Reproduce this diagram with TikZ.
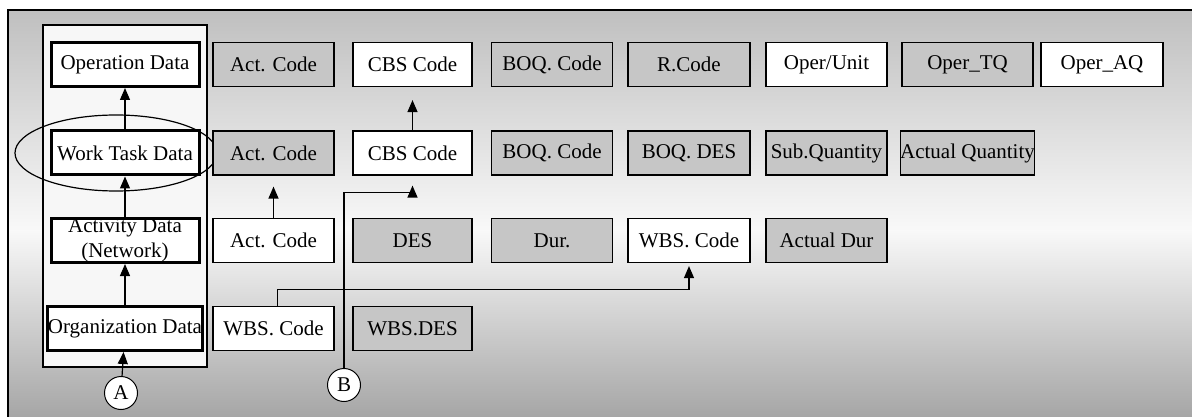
\documentclass[tikz,border=0pt]{standalone}
\usepackage{fontspec}
\setmainfont{Liberation Serif}
\usetikzlibrary{arrows.meta}
\tikzset{
  databox/.style={draw, line width=1.2pt, minimum width=121pt, minimum height=44pt,
    inner sep=0pt, font=\fontsize{21}{22}\selectfont},
  greybox/.style={databox, fill=gray!45},
  whitebox/.style={databox, fill=white},
  levelbox/.style={databox, fill=white, line width=3pt, minimum width=148pt, align=center},
  marker/.style={circle, draw, fill=white, line width=1pt, minimum size=33pt, inner sep=0pt,
    font=\fontsize{21}{22}\selectfont},
  arr/.style={-{Triangle[length=12pt,width=10pt]}, line width=1.2pt}
}
\begin{document}
\begin{tikzpicture}[x=1pt, y=-1pt]
    \useasboundingbox (0,0) rectangle (1192,417);
    \shade[top color=gray!50, bottom color=gray!5] (8,10) rectangle (1192,230);
    \shade[top color=gray!5, bottom color=gray!70] (8,230) rectangle (1192,417);
    \draw[line width=1.5pt] (8,417) -- (8,10) -- (1192,10);

    % Levels
    \draw[line width=1.5pt, fill=gray!6] (43,25) rectangle (207,367);
    \node[levelbox] (oper) at (125,64.5) {Operation Data};
    \node[levelbox] (task) at (125,153) {Work Task Data};
    \node[levelbox, font=\fontsize{21}{25}\selectfont] (act) at (125,240.5) {Activity Data\\(Network)};
    \node[levelbox] (org) at (125,328.5) {Organization Data};
    \draw[line width=1.2pt] (116,153) ellipse [x radius=101pt, y radius=38pt];

    % Operation data
    \node[greybox] (r1act) at (273.5,64.5) {Act. Code};
    \node[whitebox, minimum width=119pt] (r1cbs) at (412.5,64.5) {CBS Code};
    \node[greybox] (r1boq) at (552,64.5) {BOQ. Code};
    \node[greybox, minimum width=122pt] (r1res) at (689,64.5) {R.Code};
    \node[whitebox] (r1unit) at (826.5,64.5) {Oper/Unit};
    \node[greybox, minimum width=131pt] (r1tq) at (967.5,64.5) {Oper\_TQ};
    \node[whitebox, minimum width=122pt] (r1aq) at (1102,64.5) {Oper\_AQ};

    % Work task data
    \node[greybox] (r2act) at (273.5,153) {Act. Code};
    \node[whitebox, minimum width=119pt] (r2cbs) at (412.5,153) {CBS Code};
    \node[greybox] (r2boq) at (552,153) {BOQ. Code};
    \node[greybox, minimum width=122pt] (r2des) at (689,153) {BOQ. DES};
    \node[greybox] (r2sub) at (826.5,153) {Sub.Quantity};
    \node[greybox, minimum width=131pt] (r2aq) at (967.5,153) {Actual Quantity};

    % Activity data
    \node[whitebox] (r3act) at (273.5,240.5) {Act. Code};
    \node[greybox, minimum width=119pt] (r3des) at (412.5,240.5) {DES};
    \node[greybox] (r3dur) at (552,240.5) {Dur.};
    \node[whitebox, minimum width=122pt] (r3wbs) at (689,240.5) {WBS. Code};
    \node[greybox] (r3adur) at (826.5,240.5) {Actual Dur};

    % Organization data
    \node[whitebox] (r4wbs) at (273.5,328.5) {WBS. Code};
    \node[greybox, minimum width=119pt] (r4des) at (412.5,328.5) {WBS.DES};

    \node[marker] (A) at (121,393) {A};
    \node[marker] (B) at (344,385) {B};

    % Links
    \draw[arr] (A) -- (org);
    \draw[arr] (org) -- (act);
    \draw[arr] (act) -- (task);
    \draw[arr] (task) -- (oper);
    \draw[arr] (r3act) -- ([yshift=-11pt]r2act.south);
    \draw[arr] (r2cbs) -- ([yshift=-13pt]r1cbs.south);
    \draw[arr] (B) |- ([yshift=-17pt]r2cbs.south) -- ([yshift=-10pt]r2cbs.south);
    \draw[arr] ([xshift=4pt]r4wbs.north) |- ([yshift=-26pt]r3wbs.south) -- ([yshift=-3pt]r3wbs.south);
\end{tikzpicture}
\end{document}
